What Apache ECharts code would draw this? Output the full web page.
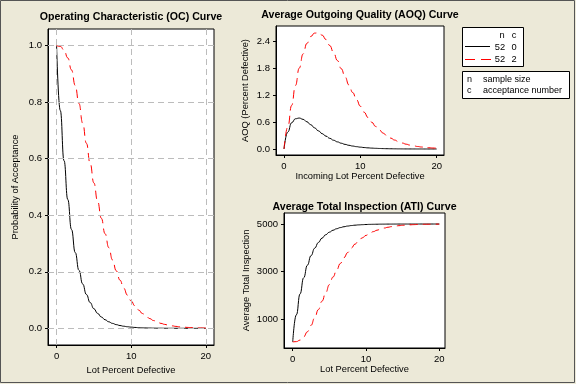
<!DOCTYPE html>
<html><head><meta charset="utf-8">
<script src="https://cdn.jsdelivr.net/npm/echarts@6/dist/echarts.min.js"></script>
<style>html,body{margin:0;padding:0;background:#ECE9D8;}#c{width:576px;height:384px;}</style>
</head><body><div id="c"></div>
<script>
const lotPct = [0,0.5,1,1.5,2,2.5,3,3.5,4,4.5,5,5.5,6,6.5,7,7.5,8,8.5,9,9.5,10,10.5,11,11.5,12,12.5,13,13.5,14,14.5,15,15.5,16,16.5,17,17.5,18,18.5,19,19.5,20];
const ocC0 = [1,0.7705,0.5930,0.4557,0.3497,0.2681,0.2052,0.1568,0.1197,0.0912,0.0694,0.0528,0.0401,0.0304,0.0230,0.0174,0.0131,0.0099,0.0074,0.0056,0.0042,0.0031,0.0023,0.0017,0.0013,0.0010,0.0007,0.0005,0.0004,0.0003,0.0002,0.0002,0.0001,0.0001,0.0001,0,0,0,0,0,0];
const ocC2 = [1,0.9977,0.9846,0.9567,0.9142,0.8592,0.7955,0.7261,0.6545,0.5835,0.5145,0.4496,0.3894,0.3346,0.2855,0.2419,0.2036,0.1704,0.1417,0.1173,0.0967,0.0793,0.0647,0.0525,0.0425,0.0343,0.0275,0.0220,0.0175,0.0139,0.0110,0.0087,0.0068,0.0053,0.0042,0.0033,0.0025,0.0020,0.0015,0.0012,0.0009];
const aoqC0 = [0,0.3812,0.5868,0.6764,0.6921,0.6633,0.6092,0.5431,0.4738,0.4061,0.3434,0.2874,0.2381,0.1955,0.1593,0.1291,0.1037,0.0829,0.0661,0.0524,0.0414,0.0325,0.0255,0.0198,0.0154,0.0119,0.0092,0.0071,0.0054,0.0042,0.0031,0.0023,0.0018,0.0013,0.0010,0.0007,0.0005,0.0004,0.0004,0.0002,0.0002];
const aoqC2 = [0,0.4937,0.9744,1.4202,1.8094,2.1257,2.3617,2.5149,2.5908,2.5984,2.5457,2.4471,2.3121,2.1523,1.9777,1.7954,1.6119,1.4333,1.2620,1.1028,0.9565,0.8236,0.7040,0.5979,0.5047,0.4238,0.3535,0.2935,0.2426,0.1992,0.1634,0.1331,0.1080,0.0872,0.0702,0.0563,0.0449,0.0357,0.0282,0.0223,0.0176];
const atiC0 = [52,1188,2066,2745,3270,3673,3985,4224,4408,4549,4657,4739,4802,4850,4886,4914,4935,4951,4963,4972,4979,4985,4988,4991,4994,4995,4997,4997,4998,4999,4999,4999,4999,5000,5000,5000,5000,5000,5000,5000,5000];
const atiC2 = [52,63,128,266,477,749,1064,1407,1762,2113,2454,2775,3073,3344,3587,3803,3993,4157,4299,4420,4522,4608,4680,4740,4790,4831,4864,4891,4913,4931,4946,4957,4966,4974,4979,4984,4988,4990,4993,4994,4996];
const xTicks = [0,10,20];
const ocTicks = [0,0.2,0.4,0.6,0.8,1.0];
const aoqTicks = [0,0.6,1.2,1.8,2.4];
const atiTicks = [1000,3000,5000];
const plans = [{n:52,c:0},{n:52,c:2}];

const pairs = (ys) => lotPct.map((x,i)=>[x,ys[i]]);
const FONT = 'Liberation Sans';
const lab = {color:'#000',fontFamily:FONT,fontSize:9.5};
const nameStyle = {color:'#000',fontFamily:FONT,fontSize:9.3};

function xAx(idx, min, max, name, gap){
  return {type:'value',gridIndex:idx,min,max,name,nameLocation:'middle',nameGap:gap,nameTextStyle:nameStyle,
    axisLine:{show:true,onZero:false,lineStyle:{color:'#000',width:1}},
    axisTick:{show:true,length:3,inside:false,customValues:xTicks,lineStyle:{color:'#000'}},
    axisLabel:Object.assign({customValues:xTicks,margin:6},lab),
    splitLine:{show:false}};
}
function yAx(idx, min, max, ticks, name, gap, fmt){
  return {type:'value',gridIndex:idx,min,max,name,nameLocation:'middle',nameGap:gap,nameTextStyle:nameStyle,
    axisLine:{show:true,onZero:false,lineStyle:{color:'#000',width:1}},
    axisTick:{show:true,length:3,customValues:ticks,lineStyle:{color:'#000'}},
    axisLabel:Object.assign({customValues:ticks,margin:6,formatter:fmt},lab),
    splitLine:{show:false}};
}
const f1 = v=>v.toFixed(1);
const f0 = v=>String(Math.round(v));

function ser(xi, ys, red){
  return {type:'line',xAxisIndex:xi,yAxisIndex:xi,data:pairs(ys),showSymbol:false,symbol:'none',z:3,
    smooth:true,smoothMonotone:'x',animation:false,
    lineStyle:red?{color:'#FF0000',width:1,type:[8,5]}:{color:'#000',width:1}};
}
const gridLines = {type:'line',xAxisIndex:0,yAxisIndex:0,data:[],z:1,animation:false,silent:true,
  markLine:{silent:true,animation:false,symbol:['none','none'],label:{show:false},
    lineStyle:{color:'#bcbcbc',type:[6,4],width:1},emphasis:{disabled:true},
    data:xTicks.map(v=>({xAxis:v})).concat(ocTicks.map(v=>({yAxis:v})))}};

const chart = echarts.init(document.getElementById('c'),null,{renderer:'canvas'});
chart.setOption({
  backgroundColor:'#ECE9D8',
  animation:false,
  grid:[
    {left:48,top:29,width:166,height:316,show:true,backgroundColor:'#fff',borderColor:'#000',borderWidth:1},
    {left:276,top:26,width:168,height:129,show:true,backgroundColor:'#fff',borderColor:'#000',borderWidth:1},
    {left:284,top:213,width:161,height:135,show:true,backgroundColor:'#fff',borderColor:'#000',borderWidth:1}
  ],
  xAxis:[
    xAx(0,-1.15,21.1,'Lot Percent Defective',18),
    xAx(1,-1.05,20.96,'Incoming Lot Percent Defective',17),
    xAx(2,-1.19,20.78,'Lot Percent Defective',17)
  ],
  yAxis:[
    yAx(0,-0.059,1.059,ocTicks,'Probability of Acceptance',28,f1),
    yAx(1,-0.134,2.75,aoqTicks,'AOQ (Percent Defective)',26,f1),
    yAx(2,-204,5462,atiTicks,'Average Total Inspection',33,f0)
  ],
  series:[
    gridLines,
    ser(0,ocC0,false), ser(0,ocC2,true),
    ser(1,aoqC0,false), ser(1,aoqC2,true),
    ser(2,atiC0,false), ser(2,atiC2,true)
  ],
  graphic:[
    {type:'rect',silent:true,shape:{x:0.5,y:0.5,width:574,height:382},style:{fill:null,stroke:'#555',lineWidth:1}},
    {type:'text',x:131,y:17,style:{text:'Operating Characteristic (OC) Curve',font:'bold 10.6px "Liberation Sans"',fill:'#000',textAlign:'center',textVerticalAlign:'middle'}},
    {type:'text',x:360,y:15,style:{text:'Average Outgoing Quality (AOQ) Curve',font:'bold 10.6px "Liberation Sans"',fill:'#000',textAlign:'center',textVerticalAlign:'middle'}},
    {type:'text',x:364.5,y:207,style:{text:'Average Total Inspection (ATI) Curve',font:'bold 10.6px "Liberation Sans"',fill:'#000',textAlign:'center',textVerticalAlign:'middle'}},
    {type:'rect',shape:{x:462.5,y:27.5,width:61,height:39},style:{fill:'#fff',stroke:'#000',lineWidth:1}},
    {type:'text',x:502,y:35,style:{text:'n',font:'9.3px "Liberation Sans"',fill:'#000',textAlign:'center',textVerticalAlign:'middle'}},
    {type:'text',x:514,y:35,style:{text:'c',font:'9.3px "Liberation Sans"',fill:'#000',textAlign:'center',textVerticalAlign:'middle'}},
    {type:'line',shape:{x1:465,y1:46.5,x2:490,y2:46.5},style:{stroke:'#000',lineWidth:1}},
    {type:'text',x:500,y:47,style:{text:String(plans[0].n),font:'9.3px "Liberation Sans"',fill:'#000',textAlign:'center',textVerticalAlign:'middle'}},
    {type:'text',x:514,y:47,style:{text:String(plans[0].c),font:'9.3px "Liberation Sans"',fill:'#000',textAlign:'center',textVerticalAlign:'middle'}},
    {type:'line',shape:{x1:465,y1:59.5,x2:491,y2:59.5},style:{stroke:'#FF0000',lineWidth:1,lineDash:[10,6]}},
    {type:'text',x:500,y:59,style:{text:String(plans[1].n),font:'9.3px "Liberation Sans"',fill:'#000',textAlign:'center',textVerticalAlign:'middle'}},
    {type:'text',x:514,y:59,style:{text:String(plans[1].c),font:'9.3px "Liberation Sans"',fill:'#000',textAlign:'center',textVerticalAlign:'middle'}},
    {type:'rect',shape:{x:462.5,y:71.5,width:107,height:27},style:{fill:'#fff',stroke:'#000',lineWidth:1}},
    {type:'text',x:467,y:79.5,style:{text:'n',font:'9px "Liberation Sans"',fill:'#000',textVerticalAlign:'middle'}},
    {type:'text',x:483,y:79.5,style:{text:'sample size',font:'9px "Liberation Sans"',fill:'#000',textVerticalAlign:'middle'}},
    {type:'text',x:467,y:91,style:{text:'c',font:'9px "Liberation Sans"',fill:'#000',textVerticalAlign:'middle'}},
    {type:'text',x:483,y:91,style:{text:'acceptance number',font:'9px "Liberation Sans"',fill:'#000',textVerticalAlign:'middle'}}
  ]
});
</script>
</body></html>
